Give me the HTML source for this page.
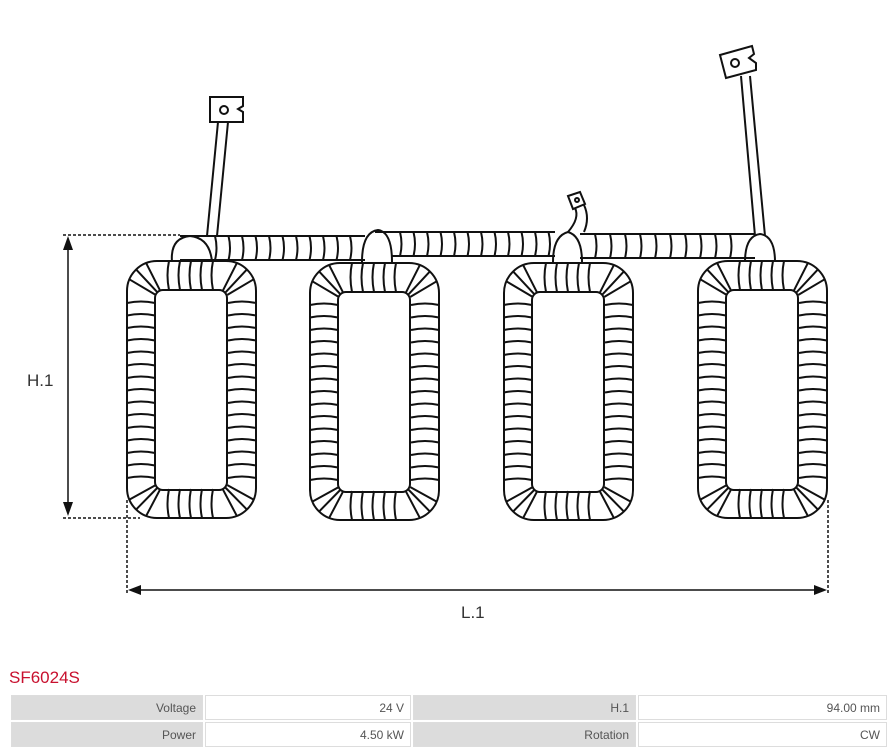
<!DOCTYPE html>
<html><head><meta charset="utf-8"><style>
body{margin:0;width:889px;height:749px;background:#fff;overflow:hidden;font-family:"Liberation Sans","DejaVu Sans",sans-serif;position:relative}
#t{position:absolute;left:9px;top:668px;color:#c8102e;font-size:17px}
table{position:absolute;left:9px;top:693px;border-collapse:separate;border-spacing:2px;width:880px;font-size:12px;color:#555}
td{height:23px;text-align:right;padding:0 6px;background:#fff;border:1px solid #ddd}
td.g{background:#dcdcdc;border-color:#ddd}
</style></head><body>
<svg id="s" width="889" height="660" style="position:absolute;left:0;top:0" xmlns="http://www.w3.org/2000/svg">
<g fill="none" stroke="#111" stroke-width="2">
<path d="M207,236 L218,122 M217,236 L228,122" />
<path d="M210,97 L243,97 L243,106 L238,109 L243,112 L243,122 L210,122 Z" fill="#fff"/>
<circle cx="224" cy="110" r="4"/>
<path d="M755,236 L741,76 M765,236 L750,76"/>
<path d="M720,55 L752,46 L754,54 L749,58 L756,63 L756,70 L726,78 Z" fill="#fff"/>
<circle cx="735" cy="63" r="4"/>
<path d="M568,232 Q580,218 575,208 M584,232 Q590,218 584,205"/>
<path d="M568,196 L580,192 L585,204 L573,209 Z" fill="#fff"/>
<circle cx="577" cy="200" r="2"/>
<path d="M180,236 L365,236 M180,260 L365,260 M375,232 L555,232 M392,256 L555,256 M580,234 L755,234 M580,258 L755,258"/>
<path d="M172,262 Q170,238 190,236 Q210,238 212,262"/>
<path d="M362,262 Q362,232 378,230 Q392,232 392,262"/>
<path d="M553,262 Q553,236 568,232 Q582,236 582,262"/>
<path d="M745,262 Q745,236 760,234 Q775,236 775,262"/>
<g id="busl"></g>
<g id="coils"></g>
<g stroke-dasharray="3,2" stroke-width="1.5">
<path d="M63,235 L180,235 M63,518 L140,518 M127,500 L127,593 M828,500 L828,593"/>
</g>
<path d="M68,240 L68,512 M131,590 L824,590" stroke-width="1.5"/>
<path d="M68,236 L63,250 L73,250 Z M68,516 L63,502 L73,502 Z M128,590 L141,585 L141,595 Z M827,590 L814,585 L814,595 Z" fill="#111" stroke="none"/>
</g>
<text x="27" y="386" font-size="17" fill="#333" font-family="Liberation Sans,sans-serif">H.1</text>
<text x="461" y="618" font-size="17" fill="#333" font-family="Liberation Sans,sans-serif">L.1</text>
</svg>
<div id="t">SF6024S</div>
<table>
<tr><td class="g" style="width:178px">Voltage</td><td style="width:192px">24 V</td><td class="g" style="width:209px">H.1</td><td>94.00 mm</td></tr>
<tr><td class="g">Power</td><td>4.50 kW</td><td class="g">Rotation</td><td>CW</td></tr>
</table>
<script>
var ns="http://www.w3.org/2000/svg";
function el(p,n,a){var e=document.createElementNS(ns,n);for(var k in a)e.setAttribute(k,a[k]);p.appendChild(e);return e;}
var C=document.getElementById('coils'),B=document.getElementById('busl');
[[127,261],[310,263],[504,263],[698,261]].forEach(function(c){
 var x=c[0],y=c[1],w=129,h=257;
 el(C,'rect',{x:x,y:y,width:w,height:h,rx:30,fill:'#fff'});
 el(C,'rect',{x:x+28,y:y+29,width:w-57,height:h-57,rx:8});
 var d='';
 for(var yy=y+42;yy<=y+h-40;yy+=12.5){d+='M'+x+','+yy+' Q'+(x+14)+','+(yy-3)+' '+(x+28)+','+yy+' ';d+='M'+(x+w-28)+','+yy+' Q'+(x+w-14)+','+(yy-3)+' '+(x+w)+','+yy+' ';}
 for(var xx=x+42;xx<=x+w-40;xx+=11){d+='M'+xx+','+y+' Q'+(xx-3)+','+(y+14)+' '+xx+','+(y+29)+' ';d+='M'+xx+','+(y+h-29)+' Q'+(xx-3)+','+(y+h-14)+' '+xx+','+(y+h)+' ';}
 var cs=[[x+36,y+37,x+30,y+30,-1,-1],[x+w-36,y+37,x+w-30,y+30,1,-1],[x+36,y+h-36,x+30,y+h-30,-1,1],[x+w-36,y+h-36,x+w-30,y+h-30,1,1]];
 cs.forEach(function(k){
  [0.4,0.8,1.2].forEach(function(a){var cx=Math.cos(a)*k[4],sy=Math.sin(a)*k[5];
   d+='M'+(k[0]+8*cx)+','+(k[1]+8*sy)+' L'+(k[2]+30*cx)+','+(k[3]+30*sy)+' ';});
 });
 el(C,'path',{d:d});
});
var d='';
for(var x=215;x<360;x+=13.5)d+='M'+x+',236 Q'+(x+3)+',248 '+x+',260 ';
for(var x=400;x<552;x+=13.5)d+='M'+x+',232 Q'+(x+3)+',244 '+x+',256 ';
for(var x=595;x<745;x+=15)d+='M'+x+',234 Q'+(x+3)+',246 '+x+',258 ';
el(B,'path',{d:d});
</script>
</body></html>
